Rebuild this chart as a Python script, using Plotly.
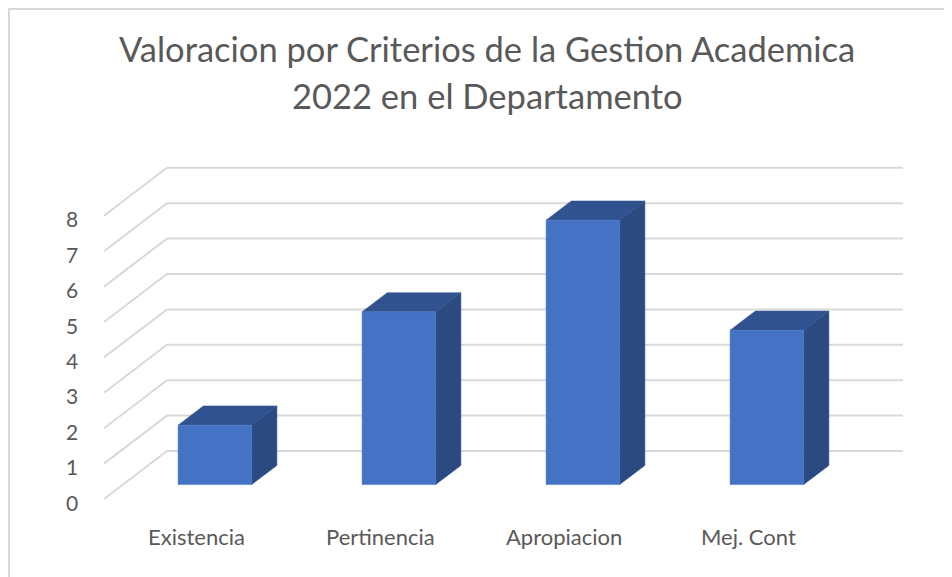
import plotly.graph_objects as go

# ---- data ----
categories = ["Existencia", "Pertinencia", "Apropiacion", "Mej. Cont"]
values = [1.68, 4.88, 7.47, 4.36]
y_ticks = [0, 1, 2, 3, 4, 5, 6, 7, 8]
title_lines = ["Valoracion por Criterios de la Gestion Academica",
               "2022 en el Departamento"]

# ---- geometry (pseudo-3D projection in data units) ----
OFF = 8               # page body margin in the browser
W, H = 952 - OFF, 577 - OFF
PX_X = 184.0          # pixels per category unit
PX_Y = 35.4           # pixels per value unit
X0_PX, Y0_PX = 104.0 - OFF, 499.0 - OFF   # front-plane origin in pixels
DX = 63.0 / PX_X      # depth offset in x units (full depth)
DY = 48.0 / PX_Y      # depth offset in y units (full depth)
HALF_W = 0.2
D0, D1 = 0.3, 0.7

x_range = [-X0_PX / PX_X, (W - X0_PX) / PX_X]
y_range = [-(H - Y0_PX) / PX_Y, Y0_PX / PX_Y]

GRID = "#d9d9d9"
FRONT = "#4472C4"
TOP = "#30528F"
SIDE = "#2A4A80"
TEXT = "#595959"
FONT = "Lato"

fig = go.Figure()

# gridlines: back wall + left side wall diagonals
n_cat = len(categories)
for k in y_ticks:
    fig.add_trace(go.Scatter(
        x=[0, DX, n_cat + DX], y=[k, k + DY, k + DY],
        mode="lines", line=dict(color=GRID, width=2),
        hoverinfo="skip", showlegend=False))

def poly(xs, ys, color):
    fig.add_trace(go.Scatter(
        x=xs + [xs[0]], y=ys + [ys[0]], mode="lines", fill="toself",
        fillcolor=color, line=dict(color=color, width=0.5),
        hoverinfo="skip", showlegend=False))

for i, v in enumerate(values):
    c = i + 0.5
    xa = c - HALF_W
    xb = c + HALF_W
    # side face
    poly([xb + D0 * DX, xb + D1 * DX, xb + D1 * DX, xb + D0 * DX],
         [D0 * DY, D1 * DY, v + D1 * DY, v + D0 * DY], SIDE)
    # top face
    poly([xa + D0 * DX, xb + D0 * DX, xb + D1 * DX, xa + D1 * DX],
         [v + D0 * DY, v + D0 * DY, v + D1 * DY, v + D1 * DY], TOP)
    # front face
    poly([xa + D0 * DX, xb + D0 * DX, xb + D0 * DX, xa + D0 * DX],
         [D0 * DY, D0 * DY, v + D0 * DY, v + D0 * DY], FRONT)

annotations = []
# y tick labels
for k in y_ticks:
    annotations.append(dict(
        x=(80 - OFF - X0_PX) / PX_X, y=k, xref="x", yref="y", text=str(k),
        showarrow=False, xanchor="right", yanchor="middle", yshift=-3,
        font=dict(family=FONT, size=21, color=TEXT)))
# category labels
for i, cat in enumerate(categories):
    annotations.append(dict(
        x=i + 0.5, y=-(536 - OFF - Y0_PX) / PX_Y, xref="x", yref="y", text=cat,
        showarrow=False, xanchor="center", yanchor="middle",
        font=dict(family=FONT, size=22, color=TEXT)))
# title
for j, (line, ypx) in enumerate(zip(title_lines, [48, 95])):
    annotations.append(dict(
        x=(487 - OFF) / W, y=1 - (ypx - OFF) / H, xref="paper", yref="paper",
        text=line, showarrow=False, xanchor="center", yanchor="middle",
        font=dict(family=FONT, size=34.5, color=TEXT)))

fig.update_layout(
    width=W, height=H,
    margin=dict(l=0, r=0, t=0, b=0),
    paper_bgcolor="white", plot_bgcolor="white",
    xaxis=dict(range=x_range, visible=False, fixedrange=True),
    yaxis=dict(range=y_range, visible=False, fixedrange=True),
    annotations=annotations,
    shapes=[dict(type="rect", xref="paper", yref="paper",
                 x0=1 / W, x1=1.05, y0=-0.05, y1=1 - 1 / H,
                 line=dict(color=GRID, width=2), fillcolor="rgba(0,0,0,0)")],
    showlegend=False,
)

fig.write_html("out.html")
